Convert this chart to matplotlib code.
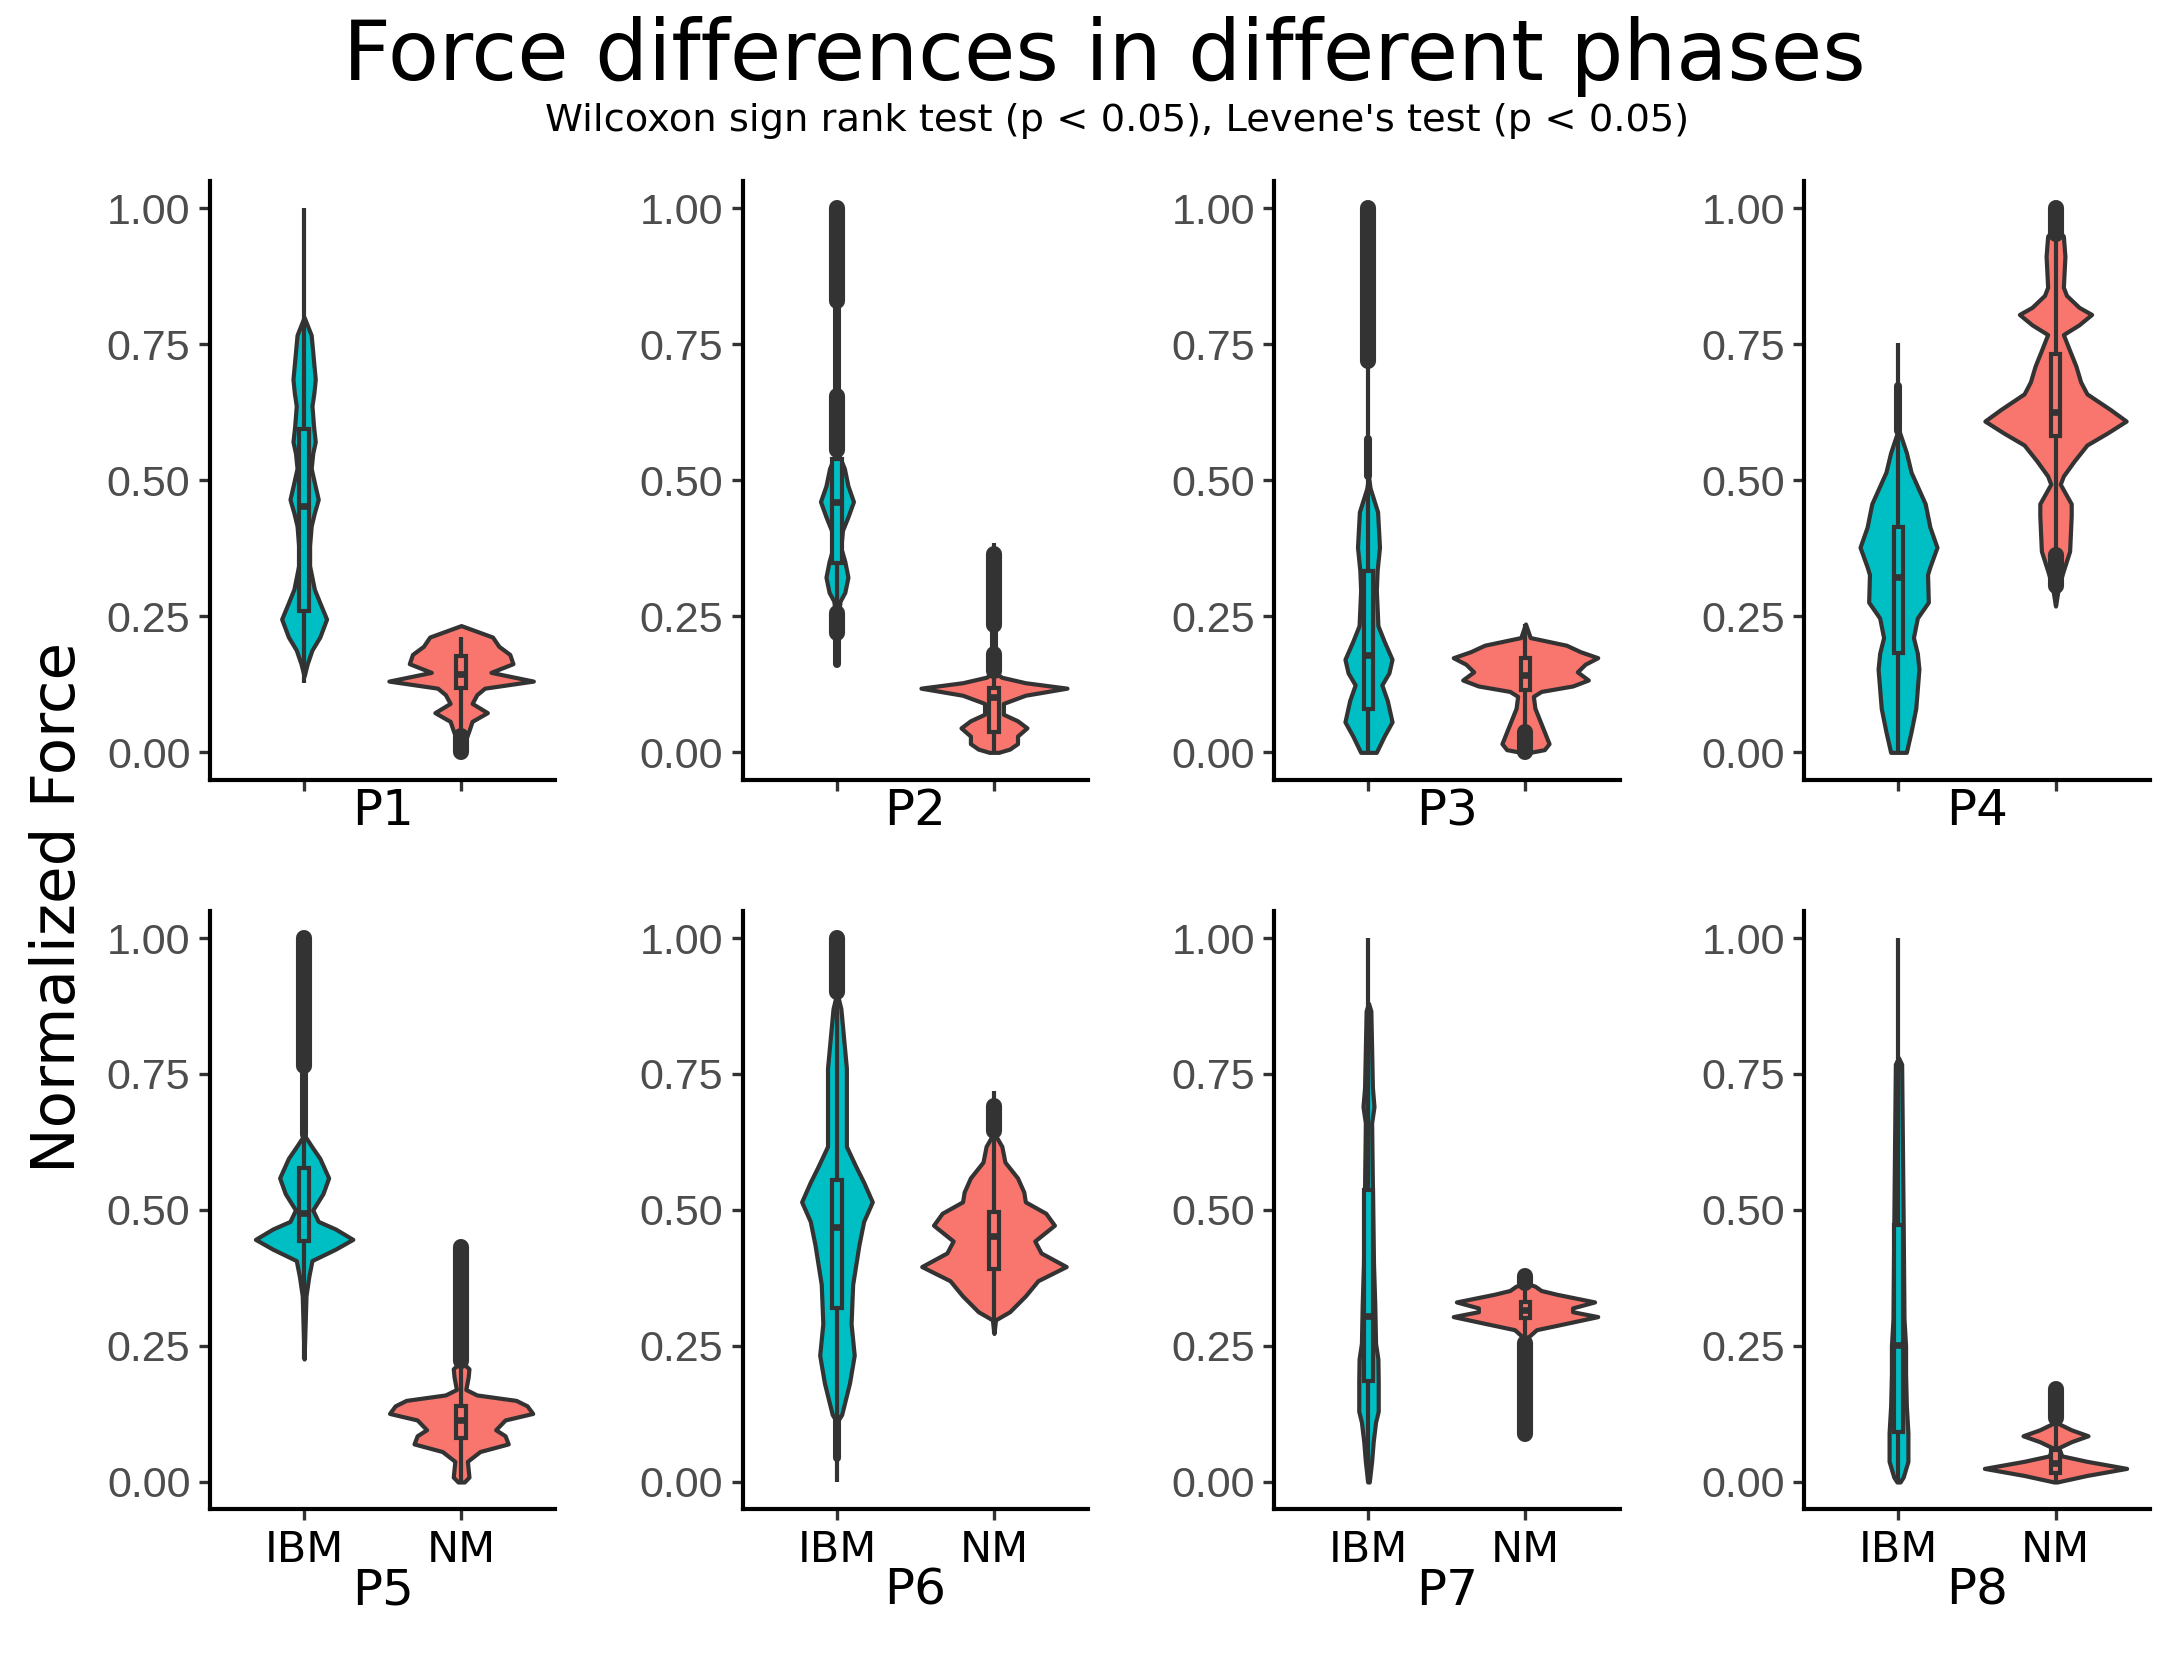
import matplotlib
matplotlib.use("Agg")
import matplotlib.pyplot as plt

# colours used by ggplot's default two-level palette
IBM_COL = "#00BFC4"
NM_COL = "#F8766D"
LINE_COL = "#333333"

phases = ["P1", "P2", "P3", "P4", "P5", "P6", "P7", "P8"]
groups = ["IBM", "NM"]
yticks = [0.0, 0.25, 0.5, 0.75, 1.0]
ytick_labels = ["0.00", "0.25", "0.50", "0.75", "1.00"]

# violin outlines: force value -> half width (x units)
p1_ibm_y = [0.14, 0.163, 0.188, 0.212, 0.245, 0.275, 0.30, 0.343, 0.38, 0.416, 0.44, 0.465, 0.49, 0.522, 0.55, 0.571, 0.60, 0.637, 0.66, 0.686, 0.72, 0.767, 0.80]
p1_ibm_w = [0.0, 0.02, 0.05, 0.10, 0.143, 0.10, 0.065, 0.035, 0.035, 0.045, 0.065, 0.09, 0.07, 0.045, 0.055, 0.071, 0.06, 0.05, 0.062, 0.071, 0.06, 0.045, 0.0]
p1_nm_y = [0.0, 0.024, 0.04, 0.057, 0.073, 0.09, 0.106, 0.118, 0.131, 0.147, 0.163, 0.18, 0.195, 0.212, 0.233]
p1_nm_w = [0.02, 0.03, 0.05, 0.07, 0.167, 0.07, 0.10, 0.15, 0.46, 0.19, 0.33, 0.31, 0.24, 0.20, 0.0]

p2_ibm_y = [0.22, 0.253, 0.278, 0.294, 0.322, 0.351, 0.376, 0.408, 0.433, 0.461, 0.49, 0.522, 0.555]
p2_ibm_w = [0.0, 0.01, 0.02, 0.05, 0.07, 0.05, 0.025, 0.035, 0.07, 0.105, 0.07, 0.047, 0.0]
p2_nm_y = [0.0, 0.006, 0.016, 0.03, 0.045, 0.058, 0.07, 0.09, 0.105, 0.118, 0.128, 0.138, 0.147]
p2_nm_w = [0.03, 0.10, 0.15, 0.15, 0.21, 0.15, 0.06, 0.06, 0.20, 0.465, 0.20, 0.05, 0.0]

p3_ibm_y = [0.0, 0.03, 0.056, 0.095, 0.124, 0.146, 0.171, 0.204, 0.233, 0.298, 0.334, 0.377, 0.442, 0.486, 0.508]
p3_ibm_w = [0.05, 0.10, 0.15, 0.12, 0.085, 0.13, 0.15, 0.10, 0.06, 0.05, 0.055, 0.07, 0.058, 0.01, 0.0]
p3_nm_y = [0.0, 0.005, 0.016, 0.045, 0.081, 0.103, 0.112, 0.122, 0.133, 0.148, 0.162, 0.174, 0.185, 0.197, 0.211, 0.236]
p3_nm_w = [0.03, 0.12, 0.15, 0.11, 0.06, 0.05, 0.10, 0.30, 0.40, 0.33, 0.38, 0.46, 0.35, 0.26, 0.03, 0.0]

p4_ibm_y = [0.0, 0.038, 0.081, 0.153, 0.182, 0.211, 0.247, 0.276, 0.327, 0.341, 0.377, 0.414, 0.457, 0.515, 0.551, 0.594]
p4_ibm_w = [0.05, 0.08, 0.11, 0.13, 0.12, 0.095, 0.12, 0.19, 0.185, 0.20, 0.245, 0.20, 0.17, 0.08, 0.05, 0.0]
p4_nm_y = [0.269, 0.305, 0.334, 0.37, 0.435, 0.457, 0.493, 0.508, 0.536, 0.565, 0.587, 0.609, 0.63, 0.659, 0.681, 0.71, 0.746, 0.768, 0.786, 0.805, 0.818, 0.84, 0.855, 0.912, 0.949, 0.965]
p4_nm_w = [0.0, 0.02, 0.05, 0.09, 0.10, 0.10, 0.03, 0.05, 0.12, 0.20, 0.33, 0.45, 0.35, 0.20, 0.16, 0.13, 0.08, 0.05, 0.15, 0.23, 0.15, 0.07, 0.05, 0.06, 0.05, 0.0]

p5_ibm_y = [0.226, 0.342, 0.378, 0.407, 0.428, 0.446, 0.465, 0.479, 0.50, 0.53, 0.559, 0.595, 0.616, 0.638]
p5_ibm_w = [0.0, 0.012, 0.03, 0.05, 0.20, 0.31, 0.20, 0.09, 0.055, 0.12, 0.156, 0.10, 0.05, 0.0]
p5_nm_y = [0.0, 0.009, 0.038, 0.056, 0.07, 0.085, 0.096, 0.114, 0.126, 0.14, 0.15, 0.16, 0.17, 0.193, 0.208, 0.222]
p5_nm_w = [0.02, 0.05, 0.04, 0.12, 0.30, 0.28, 0.22, 0.28, 0.456, 0.42, 0.35, 0.10, 0.03, 0.045, 0.05, 0.0]

p6_ibm_y = [0.11, 0.124, 0.182, 0.233, 0.291, 0.363, 0.436, 0.479, 0.515, 0.551, 0.58, 0.617, 0.761, 0.87, 0.90]
p6_ibm_w = [0.0, 0.03, 0.08, 0.11, 0.09, 0.10, 0.14, 0.17, 0.225, 0.17, 0.12, 0.06, 0.06, 0.025, 0.0]
p6_nm_y = [0.273, 0.298, 0.313, 0.342, 0.37, 0.396, 0.421, 0.443, 0.472, 0.494, 0.515, 0.533, 0.559, 0.588, 0.617, 0.642]
p6_nm_w = [0.0, 0.01, 0.10, 0.20, 0.28, 0.46, 0.30, 0.26, 0.385, 0.33, 0.20, 0.19, 0.15, 0.07, 0.05, 0.0]

p7_ibm_y = [0.0, 0.038, 0.074, 0.11, 0.13, 0.186, 0.226, 0.255, 0.327, 0.40, 0.544, 0.66, 0.69, 0.725, 0.866, 0.88]
p7_ibm_w = [0.005, 0.02, 0.03, 0.045, 0.062, 0.062, 0.06, 0.045, 0.04, 0.032, 0.025, 0.02, 0.035, 0.025, 0.015, 0.0]
p7_nm_y = [0.262, 0.28, 0.291, 0.304, 0.313, 0.32, 0.331, 0.345, 0.352, 0.36, 0.366]
p7_nm_w = [0.0, 0.07, 0.25, 0.46, 0.30, 0.30, 0.44, 0.20, 0.10, 0.06, 0.0]

p8_ibm_y = [0.0, 0.009, 0.038, 0.09, 0.14, 0.20, 0.25, 0.30, 0.472, 0.768, 0.78]
p8_ibm_w = [0.01, 0.03, 0.06, 0.06, 0.05, 0.045, 0.045, 0.035, 0.03, 0.02, 0.0]
p8_nm_y = [0.0, 0.012, 0.025, 0.038, 0.048, 0.063, 0.074, 0.085, 0.096, 0.11]
p8_nm_w = [0.01, 0.20, 0.453, 0.20, 0.04, 0.02, 0.10, 0.207, 0.10, 0.0]

# box statistics per phase
ibm_q1 = [0.26, 0.349, 0.08, 0.182, 0.443, 0.32, 0.186, 0.092]
ibm_med = [0.453, 0.461, 0.179, 0.323, 0.495, 0.468, 0.305, 0.251]
ibm_q3 = [0.594, 0.539, 0.334, 0.414, 0.577, 0.555, 0.537, 0.472]
ibm_lo = [0.127, 0.163, 0.0, 0.0, 0.226, 0.0, 0.0, 0.0]
ibm_hi = [1.0, 1.0, 0.72, 0.753, 0.765, 0.9, 1.0, 1.0]

nm_q1 = [0.118, 0.038, 0.115, 0.582, 0.081, 0.392, 0.302, 0.016]
nm_med = [0.144, 0.102, 0.142, 0.625, 0.114, 0.452, 0.316, 0.034]
nm_q3 = [0.178, 0.118, 0.174, 0.732, 0.14, 0.497, 0.331, 0.059]
nm_lo = [0.03, 0.0, 0.04, 0.269, 0.0, 0.273, 0.255, 0.0]
nm_hi = [0.212, 0.384, 0.236, 0.95, 0.444, 0.718, 0.365, 0.11]

# runs of overplotted outlier points (dense, and sparser ones)
ibm_dense = [[], [(0.83, 1.0), (0.555, 0.655), (0.22, 0.257)], [(0.72, 1.0)], [], [(0.765, 1.0)], [(0.9, 1.0)], [], []]
ibm_sparse = [[], [(0.655, 0.83), (0.163, 0.22)], [(0.508, 0.576)], [(0.59, 0.674)], [(0.638, 0.765)], [(0.045, 0.117)], [], []]
nm_dense = [[(0.0, 0.03)], [(0.235, 0.365), (0.15, 0.18)], [(0.0, 0.038)], [(0.952, 1.0), (0.305, 0.363)], [(0.222, 0.432)], [(0.645, 0.692)], [(0.088, 0.255), (0.365, 0.378)], [(0.117, 0.171)]]
nm_sparse = [[], [(0.18, 0.235)], [], [], [], [], [], []]

ibm_shapes = [(p1_ibm_y, p1_ibm_w), (p2_ibm_y, p2_ibm_w), (p3_ibm_y, p3_ibm_w), (p4_ibm_y, p4_ibm_w),
              (p5_ibm_y, p5_ibm_w), (p6_ibm_y, p6_ibm_w), (p7_ibm_y, p7_ibm_w), (p8_ibm_y, p8_ibm_w)]
nm_shapes = [(p1_nm_y, p1_nm_w), (p2_nm_y, p2_nm_w), (p3_nm_y, p3_nm_w), (p4_nm_y, p4_nm_w),
             (p5_nm_y, p5_nm_w), (p6_nm_y, p6_nm_w), (p7_nm_y, p7_nm_w), (p8_nm_y, p8_nm_w)]

BOX_HW = 0.03
LW = 1.5


def draw_group(ax, x, shape, q1, med, q3, lo, hi, dense, sparse, color):
    ys, ws = shape
    ax.fill_betweenx(ys, [x - w for w in ws], [x + w for w in ws], facecolor=color,
                     edgecolor=LINE_COL, linewidth=LW, joinstyle="round", zorder=2)
    # whisker
    ax.plot([x, x], [lo, hi], color=LINE_COL, lw=LW, solid_capstyle="butt", zorder=3)
    # box
    ax.fill([x - BOX_HW, x + BOX_HW, x + BOX_HW, x - BOX_HW], [q1, q1, q3, q3],
            facecolor=color, edgecolor=LINE_COL, linewidth=LW, zorder=4)
    ax.plot([x - BOX_HW, x + BOX_HW], [med, med], color=LINE_COL, lw=2.4,
            solid_capstyle="butt", zorder=5)
    for a, b in sparse:
        ax.plot([x, x], [a, b], color=LINE_COL, lw=2.9, solid_capstyle="round", zorder=5)
    for a, b in dense:
        ax.plot([x, x], [a, b], color=LINE_COL, lw=5.8, solid_capstyle="round", zorder=6)


fig = plt.figure(figsize=(10.91, 8.265), dpi=200)

lefts = [0.0962, 0.3404, 0.584, 0.8269]
bottoms = [0.5284, 0.087]
aw, ah = 0.1583, 0.362

for i, ph in enumerate(phases):
    row, col = divmod(i, 4)
    ax = fig.add_axes([lefts[col], bottoms[row], aw, ah])
    draw_group(ax, 1, ibm_shapes[i], ibm_q1[i], ibm_med[i], ibm_q3[i], ibm_lo[i], ibm_hi[i],
               ibm_dense[i], ibm_sparse[i], IBM_COL)
    draw_group(ax, 2, nm_shapes[i], nm_q1[i], nm_med[i], nm_q3[i], nm_lo[i], nm_hi[i],
               nm_dense[i], nm_sparse[i], NM_COL)
    ax.set_xlim(0.4, 2.6)
    ax.set_ylim(-0.05, 1.05)
    ax.set_yticks(yticks)
    ax.set_yticklabels(ytick_labels, fontsize=15.5, color="#4D4D4D", family="Liberation Sans")
    ax.set_xticks([1, 2])
    if row == 1:
        ax.set_xticklabels(groups, fontsize=15.5, color="black")
        ax.text(0.5, -0.136, ph, transform=ax.transAxes, ha="center", va="center", fontsize=18)
    else:
        ax.set_xticklabels([])
        ax.text(0.5, -0.053, ph, transform=ax.transAxes, ha="center", va="center", fontsize=18)
    ax.tick_params(axis="both", length=4, width=1.2, color=LINE_COL, pad=3)
    for s in ["top", "right"]:
        ax.spines[s].set_visible(False)
    for s in ["left", "bottom"]:
        ax.spines[s].set_linewidth(1.5)
        ax.spines[s].set_color("black")

fig.text(0.506, 0.966, "Force differences in different phases", ha="center", va="center", fontsize=30)
fig.text(0.512, 0.927, "Wilcoxon sign rank test (p < 0.05), Levene's test (p < 0.05)",
         ha="center", va="center", fontsize=13.8)
fig.text(0.027, 0.451, "Normalized Force", rotation=90, ha="center", va="center", fontsize=22)

fig.savefig("out.png", dpi=200)
